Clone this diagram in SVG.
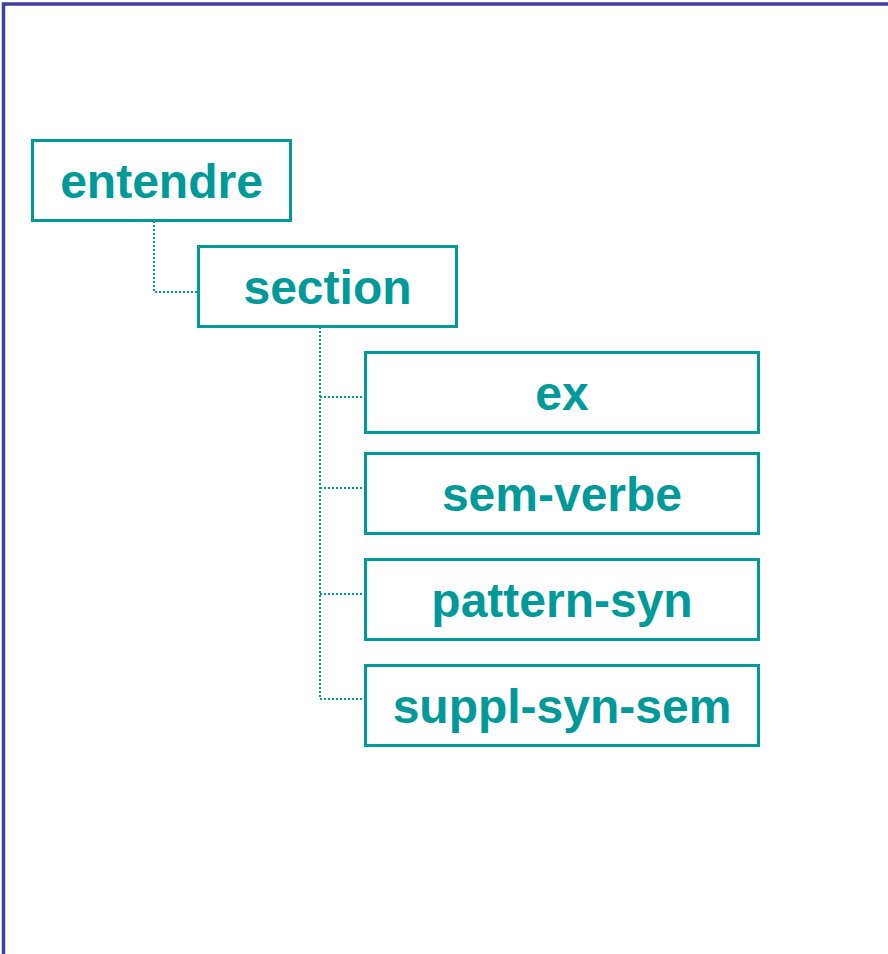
<svg xmlns="http://www.w3.org/2000/svg" width="888" height="954" viewBox="0 0 888 954">
<style>
.node rect{fill:#ffffff;stroke:#009999;stroke-width:3}
.node text{font-family:"Liberation Sans",Arial,sans-serif;font-weight:bold;font-size:48px;fill:#009999;text-anchor:middle}
.conn path{fill:none;stroke:#009999;stroke-width:2;stroke-dasharray:2 2}
</style>
<rect width="888" height="954" fill="#ffffff"/>
<path d="M3.5 954 V4 H888" fill="none" stroke="#3f3f9f" stroke-width="3.5"/>
<g class="conn" id="connectors">
<path d="M154 221 V292 H198"/>
<path d="M320 327 V699 H365"/>
<path d="M320 397 H365"/>
<path d="M320 488 H365"/>
<path d="M320 594 H365"/>
</g>
<g class="node" id="node-entendre"><rect x="32.5" y="140.5" width="258" height="80"/><text x="161.5" y="198">entendre</text></g>
<g class="node" id="node-section"><rect x="198.5" y="246.5" width="258" height="80"/><text x="327.5" y="304">section</text></g>
<g class="node" id="node-ex"><rect x="365.5" y="352.5" width="393" height="80"/><text x="562" y="410">ex</text></g>
<g class="node" id="node-sem-verbe"><rect x="365.5" y="453.5" width="393" height="80"/><text x="562" y="511">sem-verbe</text></g>
<g class="node" id="node-pattern-syn"><rect x="365.5" y="559.5" width="393" height="80"/><text x="562" y="617">pattern-syn</text></g>
<g class="node" id="node-suppl-syn-sem"><rect x="365.5" y="665.5" width="393" height="80"/><text x="562" y="723">suppl-syn-sem</text></g>
</svg>
